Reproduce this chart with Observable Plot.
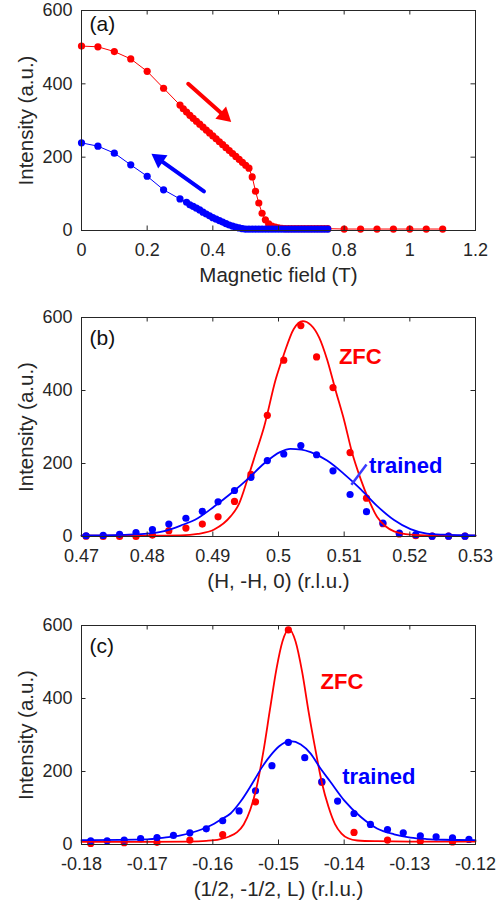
<!DOCTYPE html>
<html><head><meta charset="utf-8">
<script src="https://cdn.jsdelivr.net/npm/d3@7"></script>
<script src="https://cdn.jsdelivr.net/npm/@observablehq/plot@0.6"></script>
<style>
html,body{margin:0;padding:0;background:#fff;}
#chart{width:501px;}
#chart svg{display:block;}
</style></head><body><div id="chart"></div>
<script>
// ---------- Panel (a): intensity vs magnetic field ----------
const aRedField = [0,0.05,0.10,0.15,0.20,0.25,0.30,
  0.31,0.32,0.33,0.34,0.35,0.36,0.37,0.38,0.39,0.40,0.41,0.42,0.43,0.44,0.45,0.46,0.47,0.48,0.49,0.50,0.51,
  0.52,0.53,0.54,0.55,0.56,0.57,0.58,0.59,0.60,0.61,
  0.62,0.63,0.64,0.65,0.66,0.67,0.68,0.69,0.70,0.71,0.72,0.73,0.74,0.75,
  0.80,0.85,0.90,0.95,1.00,1.05,1.10];
const aRedIntensity = [503,501,488,468,434,388,342,
  332,323,314,306,298,290,282,274,266,258,250,242,234,226,218,210,202,194,186,178,170,
  146,107,75,47,29,18,12,9,7,6,
  5,5,5,5,5,5,5,5,5,5,5,5,5,5,
  4,4,4,4,4,4,4];
const aBlueField = [0,0.05,0.10,0.15,0.20,0.25,0.30,0.32,
  0.33,0.34,0.35,0.36,0.37,0.38,0.39,0.40,0.41,0.42,0.43,0.44,0.45,0.46,0.47,0.48,0.49,0.50,
  0.51,0.52,0.53,0.54,0.55,0.56,0.57,0.58,0.59,0.60,0.61,0.62,0.63,0.64,0.65,0.66,0.67,0.68,0.69,0.70,0.71,0.72,0.73,0.74,0.75];
const aBlueIntensity = [239,230,211,179,148,111,86,77,
  70,66,61,56,50,45,40,35,31,27,23,19,15,12,9,7,5,4,
  4,4,4,4,4,4,4,4,4,4,4,4,4,4,4,4,4,4,4,4,4,4,4,4,4];
// arrows (field, intensity): start -> tip
const aArrowX1 = [0.325, 0.373];
const aArrowY1 = [400, 107];
const aArrowX2 = [0.456, 0.213];
const aArrowY2 = [296, 209];

// ---------- Panel (b): (H,-H,0) scan ----------
const bH = [0.4707,0.4733,0.4758,0.4783,0.4808,0.4833,0.4859,0.4884,0.4908,0.4933,0.4958,0.4983,
  0.5008,0.5034,0.5058,0.5083,0.5109,0.5134,0.5159,0.5184,0.5209,0.5234,0.5259,0.5284];
const bZFC = [1,0,0,0,4,16,23,34,54,96,170,332,483,578,492,408,230,105,35,7,2,1,1,1];
const bTrained = [2,3,6,11,19,34,50,69,95,126,162,208,226,249,224,180,115,68,37,9,5,1,1,1];
const bFitZFCx = [0.47,0.475,0.48,0.4851,0.4877,0.4902,0.4927,0.4940,0.4953,0.4965,0.4978,0.4996,0.5008,0.5023,0.5037,
  0.5049,0.5062,0.5074,0.5087,0.5100,0.5112,0.5125,0.5138,0.5150,0.5163,0.5176,0.5201,0.5226,0.53];
const bFitZFCy = [2,2,2,3,7,19,55,90,158,226,300,432,498,568,590,580,545,485,400,318,230,158,98,54,28,14,5,3,2];
const bFitTrainedX = [0.47,0.475,0.48,0.4826,0.4851,0.4877,0.4902,0.4927,0.4953,0.4978,0.5003,0.5018,0.5035,0.5049,
  0.5074,0.5100,0.5125,0.5150,0.5176,0.5201,0.5226,0.5252,0.53];
const bFitTrainedY = [3,4,8,15,30,50,82,117,157,200,232,240,238,231,208,171,130,84,45,20,8,5,3];

// ---------- Panel (c): (1/2,-1/2,L) scan ----------
const cL = [-0.1786,-0.1761,-0.1735,-0.1710,-0.1685,-0.1660,-0.1635,-0.1610,-0.1585,-0.1560,-0.1535,-0.1510,
  -0.1485,-0.1460,-0.1434,-0.1410,-0.1385,-0.1360,-0.1334,-0.1310,-0.1284,-0.1260,-0.1235,-0.1210];
const cTrained = [10,10,12,16,19,25,32,43,65,92,147,216,280,238,172,119,85,55,41,32,24,21,18,14];
const cLZFC = [-0.1786,-0.1735,-0.1685,-0.1635,-0.1585,-0.1535,-0.1485,-0.1434,-0.1385,-0.1334,-0.1284,-0.1235];
const cZFC = [3,5,6,12,27,117,588,170,33,12,9,7];
const cFitZFCx = [-0.18,-0.17,-0.164,-0.161,-0.159,-0.1575,-0.1563,-0.1553,-0.1543,-0.1533,-0.1523,-0.1513,-0.1503,
  -0.1494,-0.1484,-0.1474,-0.1464,-0.1454,-0.1444,-0.1434,-0.1424,-0.1414,-0.1404,-0.1394,-0.138,-0.135,-0.13,-0.12];
const cFitZFCy = [7,7,8,10,14,22,34,55,95,160,255,370,482,556,591,556,473,362,262,170,104,56,30,17,11,9,8,8];
const cFitTrainedX = [-0.18,-0.17,-0.1674,-0.1649,-0.1624,-0.1598,-0.1588,-0.1573,-0.1558,-0.1537,-0.1525,-0.1512,
  -0.1499,-0.1482,-0.1466,-0.1451,-0.1436,-0.1421,-0.1400,-0.1375,-0.1350,-0.1324,-0.1299,-0.1274,-0.1248,-0.12];
const cFitTrainedY = [12,14,19,25,37,57,68,85,117,176,212,244,269,283,274,249,208,172,121,76,44,28,19,15,13,12];

// ---------- Axes ----------
const yTicks = [0,200,400,600];
const yTickLabels = ["0","200","400","600"];
const aXTicks = [0,0.2,0.4,0.6,0.8,1,1.2];
const aXTickLabels = ["0","0.2","0.4","0.6","0.8","1","1.2"];
const bXTicks = [0.47,0.48,0.49,0.5,0.51,0.52,0.53];
const bXTickLabels = ["0.47","0.48","0.49","0.5","0.51","0.52","0.53"];
const cXTicks = [-0.18,-0.17,-0.16,-0.15,-0.14,-0.13,-0.12];
const cXTickLabels = ["-0.18","-0.17","-0.16","-0.15","-0.14","-0.13","-0.12"];

const FONT = '"Liberation Sans", Arial, Helvetica, sans-serif';
const AX = "#262626";
const RED = "#ff0000", BLUE = "#0000ff";
const W = 501, ML = 81, MR = 26;
const plotW = W - ML - MR;
const R = 3.6;

function panel({height, marginTop, plotH, xDomain, xTicks, xTickLabels, xLabel, tag, tagDy, marks}) {
  const marginBottom = height - marginTop - plotH;
  const xl = new Map(xTicks.map((t, i) => [t, xTickLabels[i]]));
  const yl = new Map(yTicks.map((t, i) => [t, yTickLabels[i]]));
  return Plot.plot({
    width: W, height, marginLeft: ML, marginRight: MR, marginTop, marginBottom,
    style: {fontFamily: FONT, background: "#fff", color: AX, overflow: "visible"},
    x: {domain: xDomain},
    y: {domain: [0, 600]},
    marks: [
      ...marks,
      Plot.frame({stroke: AX, strokeWidth: 1}),
      Plot.tickX(xTicks, {x: d => d, stroke: AX, insetTop: plotH - 4.5}),
      Plot.tickX(xTicks, {x: d => d, stroke: AX, insetBottom: plotH - 4.5}),
      Plot.tickY(yTicks, {y: d => d, stroke: AX, insetRight: plotW - 4.5}),
      Plot.tickY(yTicks, {y: d => d, stroke: AX, insetLeft: plotW - 4.5}),
      Plot.axisX({ticks: xTicks, tickFormat: d => xl.get(d), tickSize: 0, tickPadding: 13, fontSize: 18, label: null, fill: AX}),
      Plot.axisY({ticks: yTicks, tickFormat: d => yl.get(d), tickSize: 0, tickPadding: 9, fontSize: 18, label: null, fill: AX}),
      Plot.text([xLabel], {frameAnchor: "bottom", dy: 51, lineAnchor: "bottom", fontSize: 20.5, fill: AX}),
      Plot.text(["Intensity (a.u.)"], {frameAnchor: "left", rotate: -90, dx: -55, textAnchor: "middle", lineAnchor: "middle", fontSize: 20.5, fill: AX}),
      Plot.text([tag], {frameAnchor: "top-left", dx: 8, dy: tagDy, lineAnchor: "top", textAnchor: "start", fontSize: 21, fill: "#111"})
    ]
  });
}

const chart = document.getElementById("chart");

chart.append(panel({
  height: 307, marginTop: 10, plotH: 220, xDomain: [0, 1.2],
  xTicks: aXTicks, xTickLabels: aXTickLabels, xLabel: "Magnetic field (T)", tag: "(a)", tagDy: 5.5,
  marks: [
    Plot.line(aRedField, {x: aRedField, y: aRedIntensity, stroke: RED, strokeWidth: 1}),
    Plot.dot(aRedField, {x: aRedField, y: aRedIntensity, r: R, fill: RED}),
    Plot.line(aBlueField, {x: aBlueField, y: aBlueIntensity, stroke: BLUE, strokeWidth: 1}),
    Plot.dot(aBlueField, {x: aBlueField, y: aBlueIntensity, r: R, fill: BLUE}),
    // shafts
    Plot.arrow([0], {x1: aArrowX1.slice(0,1), y1: aArrowY1.slice(0,1), x2: aArrowX2.slice(0,1), y2: aArrowY2.slice(0,1), stroke: RED, strokeWidth: 4, headLength: 0, insetEnd: 12}),
    Plot.arrow([0], {x1: aArrowX1.slice(1), y1: aArrowY1.slice(1), x2: aArrowX2.slice(1), y2: aArrowY2.slice(1), stroke: BLUE, strokeWidth: 4, headLength: 0, insetEnd: 12}),
    // filled triangular heads, centred just behind each tip
    Plot.dot([0], {x: aArrowX2.slice(0,1), y: aArrowY2.slice(0,1), symbol: "triangle", r: 6, fill: RED, stroke: "none", rotate: 131.5, dx: -7.0, dy: -6.2}),
    Plot.dot([0], {x: aArrowX2.slice(1), y: aArrowY2.slice(1), symbol: "triangle", r: 6, fill: BLUE, stroke: "none", rotate: -54.7, dx: 7.6, dy: 5.4})
  ]
}));

chart.append(panel({
  height: 308, marginTop: 10, plotH: 219, xDomain: [0.47, 0.53],
  xTicks: bXTicks, xTickLabels: bXTickLabels, xLabel: "(H, -H, 0) (r.l.u.)", tag: "(b)", tagDy: 13,
  marks: [
    Plot.dot(bH, {x: bH, y: bZFC, r: R, fill: RED}),
    Plot.dot(bH, {x: bH, y: bTrained, r: R, fill: BLUE}),
    Plot.line(bFitZFCx, {x: bFitZFCx, y: bFitZFCy, stroke: RED, strokeWidth: 1.8, curve: "monotone-x"}),
    Plot.line(bFitTrainedX, {x: bFitTrainedX, y: bFitTrainedY, stroke: BLUE, strokeWidth: 1.8, curve: "monotone-x"}),
    Plot.text(["ZFC"], {x: [0.5092], y: [472], textAnchor: "start", lineAnchor: "bottom", fontSize: 22, fontWeight: "bold", fill: RED}),
    Plot.text(["trained"], {x: [0.5138], y: [174], textAnchor: "start", lineAnchor: "bottom", fontSize: 22, fontWeight: "bold", fill: BLUE}),
    Plot.link([0], {x1: [0.5111], y1: [142], x2: [0.5134], y2: [197], stroke: "#3a3aff", strokeWidth: 2.5})
  ]
}));

chart.append(panel({
  height: 296, marginTop: 10, plotH: 219, xDomain: [-0.18, -0.12],
  xTicks: cXTicks, xTickLabels: cXTickLabels, xLabel: "(1/2, -1/2, L) (r.l.u.)", tag: "(c)", tagDy: 13,
  marks: [
    Plot.dot(cLZFC, {x: cLZFC, y: cZFC, r: R, fill: RED}),
    Plot.dot(cL, {x: cL, y: cTrained, r: R, fill: BLUE}),
    Plot.line(cFitZFCx, {x: cFitZFCx, y: cFitZFCy, stroke: RED, strokeWidth: 1.8, curve: "monotone-x"}),
    Plot.line(cFitTrainedX, {x: cFitTrainedX, y: cFitTrainedY, stroke: BLUE, strokeWidth: 1.8, curve: "monotone-x"}),
    Plot.text(["ZFC"], {x: [-0.1436], y: [427], textAnchor: "start", lineAnchor: "bottom", fontSize: 22, fontWeight: "bold", fill: RED}),
    Plot.text(["trained"], {x: [-0.1403], y: [167], textAnchor: "start", lineAnchor: "bottom", fontSize: 22, fontWeight: "bold", fill: BLUE})
  ]
}));
</script>
</body></html>
